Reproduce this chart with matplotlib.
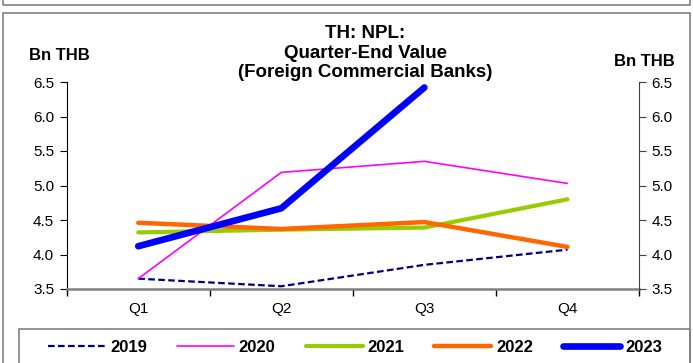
import matplotlib
matplotlib.use("Agg")
import matplotlib.pyplot as plt
from matplotlib.patches import Rectangle
from matplotlib.ticker import FixedLocator, NullFormatter

plt.rcParams['font.family'] = ['Liberation Sans', 'DejaVu Sans']

quarters = ["Q1", "Q2", "Q3", "Q4"]
years = ["2019", "2020", "2021", "2022", "2023"]
v2019 = [3.65, 3.54, 3.85, 4.07]
v2020 = [3.65, 5.19, 5.35, 5.03]
v2021 = [4.32, 4.36, 4.39, 4.80]
v2022 = [4.46, 4.37, 4.47, 4.11]
v2023 = [4.12, 4.67, 6.42]
series = [v2019, v2020, v2021, v2022, v2023]
colors = ["#000080", "#FF00FF", "#99CC00", "#FF6600", "#0000FF"]
widths = [1.6, 1.2, 3.0, 3.2, 4.8]
styles = [(0, (3, 1.5)), "-", "-", "-", "-"]
yticks = [3.5, 4.0, 4.5, 5.0, 5.5, 6.0, 6.5]
ylabels = ["3.5", "4.0", "4.5", "5.0", "5.5", "6.0", "6.5"]

W, H = 693, 363
fig = plt.figure(figsize=(W / 100, H / 100), dpi=100)

# outer frames
fig.patches.append(Rectangle((3 / W, 1 - 5 / H), 687 / W, 10 / H, transform=fig.transFigure,
                             fill=False, edgecolor="#808080", lw=1.2))
fig.patches.append(Rectangle((3 / W, -5 / H), 687 / W, (H - 13 + 5) / H, transform=fig.transFigure,
                             fill=False, edgecolor="#808080", lw=1.2))
# legend frame
fig.patches.append(Rectangle((19 / W, -5 / H), 671 / W, (363 - 329 + 5) / H, transform=fig.transFigure,
                             fill=False, edgecolor="#808080", lw=1.2))

left, right, bottom, top = 66.7, 639, 289, 82
ax = fig.add_axes([left / W, 1 - bottom / H, (right - left) / W, (bottom - top) / H])
x = list(range(len(quarters)))
handles = []
for yr, vals, c, lw, ls in zip(years, series, colors, widths, styles):
    h, = ax.plot(x[:len(vals)], vals, color=c, lw=lw, ls=ls, label=yr,
                 solid_capstyle="round", dash_capstyle="butt")
    handles.append(h)

ax.set_xlim(-0.5, 3.5)
ax.set_ylim(3.5, 6.5)
ax.set_yticks(yticks)
ax.set_yticklabels(ylabels)
ax.set_xticks(x)
ax.set_xticklabels(quarters)
ax.tick_params(axis="x", length=0, pad=9, labelsize=11)
ax.xaxis.set_minor_locator(FixedLocator([-0.5, 0.5, 1.5, 2.5, 3.5]))
ax.xaxis.set_minor_formatter(NullFormatter())
ax.tick_params(axis="x", which="minor", length=5, color="black", width=1)
ax.tick_params(axis="y", length=5, labelsize=11, direction="out", pad=4)
for s in ["top", "right"]:
    ax.spines[s].set_visible(False)
ax.spines["bottom"].set_color("#808080")
ax.spines["bottom"].set_linewidth(1.8)
ax.spines["left"].set_color("black")

ax2 = ax.twinx()
ax2.set_ylim(3.5, 6.5)
ax2.set_yticks(yticks)
ax2.set_yticklabels(ylabels)
ax2.tick_params(axis="y", length=5, labelsize=11, direction="out", color="#404040", pad=4)
for s in ["top", "left", "bottom"]:
    ax2.spines[s].set_visible(False)
ax2.spines["right"].set_color("#404040")

fig.text(365 / W, 1 - 53 / H, "TH: NPL:\nQuarter-End Value\n(Foreign Commercial Banks)",
         ha="center", va="center", fontsize=13.5, fontweight="bold", linespacing=1.2)
fig.text(59 / W, 1 - 55 / H, "Bn THB", ha="center", va="center", fontsize=12, fontweight="bold")
fig.text(644 / W, 1 - 62 / H, "Bn THB", ha="center", va="center", fontsize=12, fontweight="bold")

fig.legend(handles=handles, labels=years, loc="center", ncol=5, frameon=False,
           bbox_to_anchor=(355 / W, 1 - 347 / H), prop={"weight": "bold", "size": 12},
           handlelength=3.42, columnspacing=1.8, handletextpad=0.3)

fig.savefig("out.png", dpi=100)
